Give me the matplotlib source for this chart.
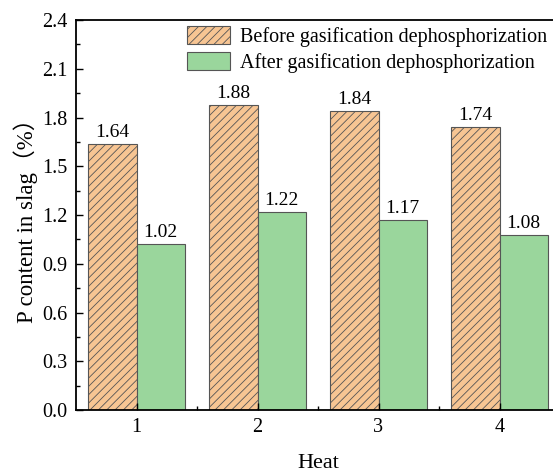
import matplotlib
matplotlib.use("Agg")
from matplotlib import pyplot as plt
import numpy as np

plt.rcParams['font.family'] = ['Liberation Serif', 'Noto Sans CJK SC']
plt.rcParams['hatch.linewidth'] = 0.6
plt.rcParams['hatch.color'] = '#4a3a2a'

heats = [1, 2, 3, 4]
before = [1.64, 1.88, 1.84, 1.74]
after = [1.02, 1.22, 1.17, 1.08]
before_lbl = ["1.64", "1.88", "1.84", "1.74"]
after_lbl = ["1.02", "1.22", "1.17", "1.08"]

fig = plt.figure(figsize=(5.53, 4.72), dpi=100)
ax = fig.add_axes([76 / 553, 62 / 472, 484 / 553, 390 / 472])

x = np.array(heats)
w = 0.4
b1 = ax.bar(x - w / 2, before, w, color='#F7C593', edgecolor='#555555',
            linewidth=0.8, hatch='////', label='Before gasification dephosphorization')
b2 = ax.bar(x + w / 2, after, w, color='#9AD69C', edgecolor='#555555',
            linewidth=0.8, label='After gasification dephosphorization')
ax.bar_label(b1, labels=before_lbl, padding=2, fontsize=14)
ax.bar_label(b2, labels=after_lbl, padding=2, fontsize=14)

ax.set_xlim(0.5, 4.5)
ax.set_ylim(0, 2.4)
ax.set_xticks(heats)
ax.set_xticks([1.5, 2.5, 3.5], minor=True)
ax.set_yticks(np.arange(0, 2.41, 0.3))
ax.set_yticks(np.arange(0.15, 2.4, 0.3), minor=True)
ax.set_yticklabels(["{:.1f}".format(v) for v in np.arange(0, 2.41, 0.3)])
ax.tick_params(which='both', direction='in', labelsize=14.5, width=1.0)
ax.tick_params(which='major', length=5, pad=6)
ax.tick_params(which='minor', length=3)
for s in ax.spines.values():
    s.set_linewidth(1.3)

ax.set_xlabel("Heat", fontsize=16, labelpad=12)
ax.set_ylabel("P content in slag（%）", fontsize=16.5, labelpad=3)

ax.legend(loc='upper left', bbox_to_anchor=(187 / 553, 1 - 26 / 472),
          bbox_transform=fig.transFigure, frameon=False, fontsize=14.5,
          borderpad=0, borderaxespad=0, handlelength=2.15, handleheight=1.0,
          handletextpad=0.5, labelspacing=0.25)

fig.savefig("out.png", dpi=100)
